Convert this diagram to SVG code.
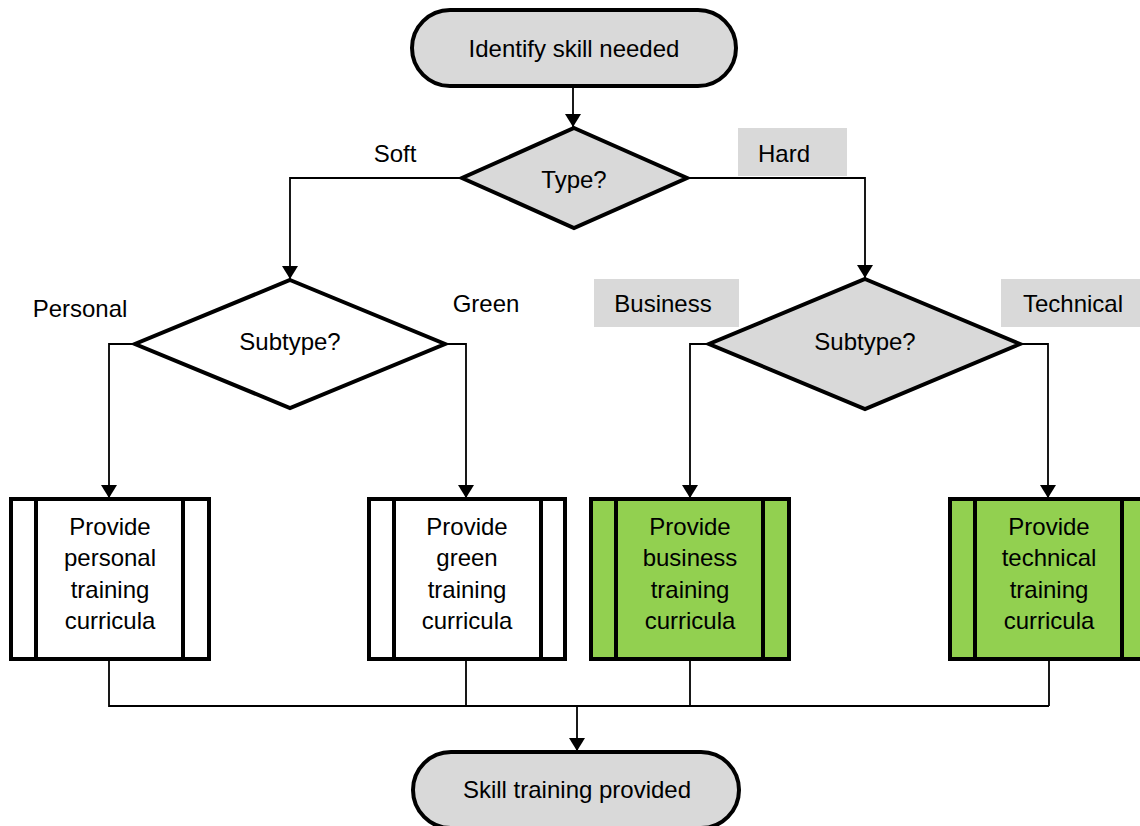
<svg xmlns="http://www.w3.org/2000/svg" width="1140" height="826" viewBox="0 0 1140 826">
<style>
text{font-family:"Liberation Sans",Arial,sans-serif;font-size:24px;fill:#000;text-anchor:middle}
.term{fill:#D9D9D9;stroke:#000;stroke-width:4}
.dec{stroke:#000;stroke-width:4;stroke-linejoin:miter}
.proc{stroke:#000;stroke-width:4}
.bar{stroke:#000;stroke-width:4}
.conn{fill:none;stroke:#000;stroke-width:1.8}
.lbl{fill:#D9D9D9}
</style>
<defs>
<marker id="arr" markerUnits="userSpaceOnUse" markerWidth="18" markerHeight="18" refX="13" refY="8" orient="auto">
<path d="M0,0 L13,8 L0,16 z" fill="#000"/>
</marker>
</defs>
<rect width="1140" height="826" fill="#fff"/>
<g id="connectors">
<path class="conn" d="M573,87 V127" marker-end="url(#arr)"/>
<path class="conn" d="M462,178 H290 V279" marker-end="url(#arr)"/>
<path class="conn" d="M687,178 H865 V278" marker-end="url(#arr)"/>
<path class="conn" d="M135,344 H109 V498" marker-end="url(#arr)"/>
<path class="conn" d="M445,344 H466 V498" marker-end="url(#arr)"/>
<path class="conn" d="M709,344 H690 V498" marker-end="url(#arr)"/>
<path class="conn" d="M1020,344 H1048 V498" marker-end="url(#arr)"/>
<path class="conn" d="M109,661 V706 H1049 M466,661 V706 M690,661 V706 M1049,661 V706"/>
<path class="conn" d="M577,706 V751" marker-end="url(#arr)"/>
</g>
<g id="labels">
<text x="395" y="162">Soft</text>
<rect class="lbl" x="738" y="128" width="109" height="48"/>
<text x="784" y="162">Hard</text>
<text x="80" y="317">Personal</text>
<text x="486" y="312">Green</text>
<rect class="lbl" x="594" y="279" width="145" height="48"/>
<text x="663" y="312">Business</text>
<rect class="lbl" x="1001" y="279" width="145" height="48"/>
<text x="1073" y="312">Technical</text>
</g>
<g id="start">
<rect class="term" x="412" y="10" width="324" height="76" rx="38" ry="38"/>
<text x="574" y="57">Identify skill needed</text>
</g>
<g id="type">
<polygon class="dec" fill="#D9D9D9" points="574,128 687,178 574,228 462,178"/>
<text x="574" y="188">Type?</text>
</g>
<g id="subtype-soft">
<polygon class="dec" fill="#fff" points="290,280 445,344 290,408 135,344"/>
<text x="290" y="350">Subtype?</text>
</g>
<g id="subtype-hard">
<polygon class="dec" fill="#D9D9D9" points="865,279 1020,344 865,409 709,344"/>
<text x="865" y="350">Subtype?</text>
</g>
<g id="personal">
<rect class="proc" fill="#fff" x="11" y="499" width="198" height="160"/>
<line class="bar" x1="36" y1="499" x2="36" y2="659"/>
<line class="bar" x1="183" y1="499" x2="183" y2="659"/>
<text x="110" y="535">Provide</text>
<text x="110" y="566">personal</text>
<text x="110" y="598">training</text>
<text x="110" y="629">curricula</text>
</g>
<g id="green">
<rect class="proc" fill="#fff" x="369" y="499" width="196" height="160"/>
<line class="bar" x1="394" y1="499" x2="394" y2="659"/>
<line class="bar" x1="541" y1="499" x2="541" y2="659"/>
<text x="467" y="535">Provide</text>
<text x="467" y="566">green</text>
<text x="467" y="598">training</text>
<text x="467" y="629">curricula</text>
</g>
<g id="business">
<rect class="proc" fill="#92D050" x="591" y="499" width="198" height="160"/>
<line class="bar" x1="616" y1="499" x2="616" y2="659"/>
<line class="bar" x1="763" y1="499" x2="763" y2="659"/>
<text x="690" y="535">Provide</text>
<text x="690" y="566">business</text>
<text x="690" y="598">training</text>
<text x="690" y="629">curricula</text>
</g>
<g id="technical">
<rect class="proc" fill="#92D050" x="950" y="499" width="198" height="160"/>
<line class="bar" x1="975" y1="499" x2="975" y2="659"/>
<line class="bar" x1="1122" y1="499" x2="1122" y2="659"/>
<text x="1049" y="535">Provide</text>
<text x="1049" y="566">technical</text>
<text x="1049" y="598">training</text>
<text x="1049" y="629">curricula</text>
</g>
<g id="end">
<rect class="term" x="413" y="752" width="326" height="76" rx="38" ry="38"/>
<text x="577" y="798">Skill training provided</text>
</g>
</svg>
